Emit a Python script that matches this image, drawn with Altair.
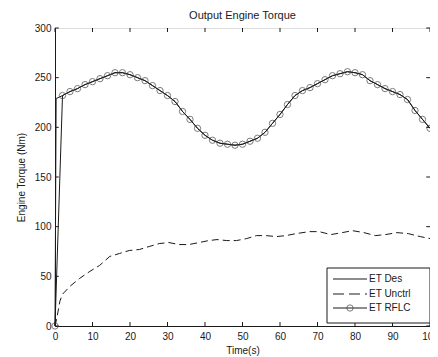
import altair as alt
import pandas as pd

# ---- data ----
rflc_t = [0, 2, 4, 6, 8, 10, 12, 14, 16, 18, 20, 22, 24, 26, 28, 30, 32, 34, 36, 38, 40,
          42, 44, 46, 48, 50, 52, 54, 56, 58, 60, 62, 64, 66, 68, 70, 72, 74, 76, 78, 80,
          82, 84, 86, 88, 90, 92, 94, 96, 98, 100]
rflc_v = [0, 232, 236, 239, 243, 246, 249, 252, 255, 255, 253, 250, 247, 242, 237, 232, 226, 216,
          208, 199, 192, 187, 184, 183, 182, 183, 186, 189, 195, 204, 213, 223, 232, 237, 240,
          244, 248, 252, 254, 256, 255, 253, 247, 243, 239, 236, 233, 228, 217, 208, 199]

des_t = [0, 0.3, 2, 4, 6, 8, 10, 12, 14, 16, 18, 20, 22, 24, 26, 28, 30, 32, 34, 36, 38, 40,
         42, 44, 46, 48, 50, 52, 54, 56, 58, 60, 62, 64, 66, 68, 70, 72, 74, 76, 78, 80,
         82, 84, 86, 88, 90, 92, 94, 96, 98, 100]
des_v = [0, 229, 232, 236, 239, 243, 246, 249, 252, 255, 255, 253, 250, 247, 242, 237, 232, 226, 216,
         208, 199, 192, 187, 184, 183, 182, 183, 186, 189, 195, 204, 213, 223, 232, 237, 240,
         244, 248, 252, 254, 256, 255, 253, 247, 243, 239, 236, 233, 228, 217, 208, 199]

unc_t = [0, 0.5, 1.3, 2, 4, 6.6, 9.3, 11.9, 14.6, 17.2, 19.8, 22.5, 25.1, 27.8, 30.4, 33, 35.7,
         38.4, 41, 43.2, 45.8, 48.4, 51.1, 53.7, 56.3, 59, 61.6, 64.3, 67.8, 70.5, 73.5, 76.6,
         79.3, 82.4, 85.4, 88.1, 91.2, 94.2, 97.4, 100]
unc_v = [0, 8, 25, 32, 40, 48, 55, 61, 70, 73, 76, 77, 80, 83, 84, 82, 82, 84, 86, 87, 86, 86,
         88, 91, 91, 90, 91, 93, 95, 95, 92, 94, 96, 94, 91, 92, 94, 93, 90, 88]

x_ticks = [0, 10, 20, 30, 40, 50, 60, 70, 80, 90, 100]
y_ticks = [0, 50, 100, 150, 200, 250, 300]
series_labels = ["ET Des", "ET Unctrl", "ET RFLC"]

FONT = "Liberation Sans"
INK = "#1a1a1a"

des_df = pd.DataFrame({"t": des_t, "v": des_v})
unc_df = pd.DataFrame({"t": unc_t, "v": unc_v})
rflc_df = pd.DataFrame({"t": rflc_t, "v": rflc_v})
xt_df = pd.DataFrame({"t": x_ticks})
yt_df = pd.DataFrame({"v": y_ticks})
one = pd.DataFrame({"a": [0]})

xscale = alt.Scale(domain=[0, 100], nice=False, zero=False)
yscale = alt.Scale(domain=[0, 300], nice=False)
xaxis = alt.Axis(values=x_ticks, ticks=False, grid=False, labelFontSize=10, labelPadding=5,
                 labelOverlap=False, labelFlush=False,
                 title="Time(s)", titleFontSize=10, titleFontWeight="normal", titlePadding=4,
                 labelColor=INK, titleColor=INK, domainColor=INK, labelFont=FONT, titleFont=FONT)
yaxis = alt.Axis(values=y_ticks, ticks=False, grid=False, labelFontSize=10, labelPadding=4,
                 labelOverlap=False, labelFlush=False,
                 title="Engine Torque (Nm)", titleFontSize=10, titleFontWeight="normal",
                 titlePadding=8, labelColor=INK, titleColor=INK, domainColor=INK,
                 labelFont=FONT, titleFont=FONT)

X = alt.X("t:Q", scale=xscale, axis=xaxis)
Y = alt.Y("v:Q", scale=yscale, axis=yaxis)

des = alt.Chart(des_df).mark_line(color=INK, strokeWidth=1).encode(x=X, y=Y)
unc = alt.Chart(unc_df).mark_line(color=INK, strokeWidth=1, strokeDash=[7, 4]).encode(x=X, y=Y)
rflc_line = alt.Chart(rflc_df).mark_line(color=INK, strokeWidth=1).encode(x=X, y=Y)
rflc_pts = alt.Chart(rflc_df).mark_point(shape="circle", filled=False, size=40, color="#444",
                                          strokeWidth=1).encode(x=X, y=Y)

# inward ticks on all four sides
tb = alt.Chart(xt_df).mark_rule(color=INK, strokeWidth=1).encode(
    x=X, y=alt.Y(datum=0, scale=yscale, axis=yaxis), y2=alt.Y2(datum=4))
tt = alt.Chart(xt_df).mark_rule(color=INK, strokeWidth=1).encode(
    x=X, y=alt.Y(datum=300, scale=yscale, axis=yaxis), y2=alt.Y2(datum=296))
tl = alt.Chart(yt_df).mark_rule(color=INK, strokeWidth=1).encode(
    y=Y, x=alt.X(datum=0, scale=xscale, axis=xaxis), x2=alt.X2(datum=1))
tr = alt.Chart(yt_df).mark_rule(color=INK, strokeWidth=1).encode(
    y=Y, x=alt.X(datum=100, scale=xscale, axis=xaxis), x2=alt.X2(datum=99))

# legend box
lbox = alt.Chart(one).mark_rect(fill="white", stroke=INK, strokeWidth=1).encode(
    x=alt.value(272), x2=alt.value(375), y=alt.value(240), y2=alt.value(295))
rows_y = [251, 266, 280]
l1 = alt.Chart(one).mark_rule(color=INK, strokeWidth=1).encode(
    x=alt.value(278), x2=alt.value(312), y=alt.value(rows_y[0]))
l2 = alt.Chart(one).mark_rule(color=INK, strokeWidth=1, strokeDash=[11, 5]).encode(
    x=alt.value(278), x2=alt.value(312), y=alt.value(rows_y[1]))
l3 = alt.Chart(one).mark_rule(color=INK, strokeWidth=1).encode(
    x=alt.value(278), x2=alt.value(312), y=alt.value(rows_y[2]))
l3p = alt.Chart(one).mark_point(shape="circle", filled=False, size=40, color="#444",
                                 strokeWidth=1).encode(x=alt.value(295), y=alt.value(rows_y[2]))
texts = [
    alt.Chart(one).mark_text(align="left", baseline="middle", fontSize=10, font=FONT,
                             color=INK).encode(x=alt.value(314), y=alt.value(rows_y[i]),
                                               text=alt.value(series_labels[i]))
    for i in range(3)
]

chart = alt.layer(des, unc, rflc_line, rflc_pts, tb, tt, tl, tr, lbox, l1, l2, l3, l3p,
                  *texts).properties(
    width=375, height=298,
    autosize="none",
    padding={"left": 47, "top": 20, "right": 0, "bottom": 31},
    title=alt.TitleParams("Output Engine Torque", fontSize=11, fontWeight="normal",
                          font=FONT, color=INK, offset=2),
).configure_view(stroke=INK, strokeWidth=1).configure(background="white")

chart.save("out.html", embed_options={"renderer": "svg", "actions": False})
